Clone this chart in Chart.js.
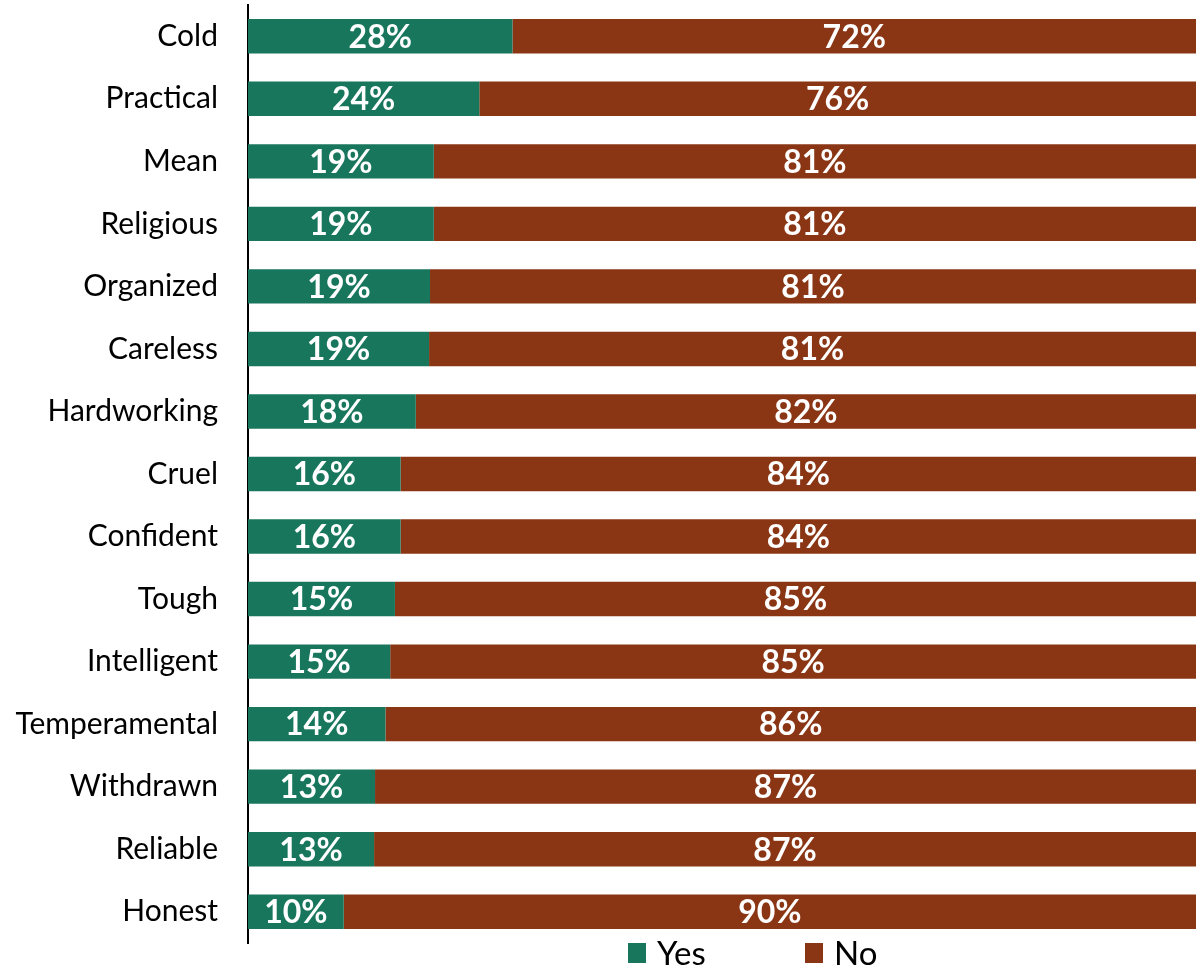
<!DOCTYPE html>
<html>
<head>
<meta charset="utf-8">
<title>Yes / No by trait</title>
<script src="https://cdn.jsdelivr.net/npm/chart.js@4.4.1/dist/chart.umd.min.js"></script>
<style>
  html, body { margin: 0; padding: 0; background: #fff; }
  #wrap { width: 1196px; height: 968px; }
</style>
</head>
<body>
<div id="wrap"><canvas id="traitChart" width="1196" height="968"></canvas></div>
<script>
// Categories, top to bottom
const categories = ['Cold', 'Practical', 'Mean', 'Religious', 'Organized', 'Careless', 'Hardworking',
  'Cruel', 'Confident', 'Tough', 'Intelligent', 'Temperamental', 'Withdrawn', 'Reliable', 'Honest'];

// Bar lengths (share of 100)
const yesShare = [27.9, 24.4, 19.6, 19.6, 19.2, 19.1, 17.7, 16.1, 16.1, 15.5, 15.0, 14.5, 13.4, 13.3, 10.1];
const noShare  = [72.1, 75.6, 80.4, 80.4, 80.8, 80.9, 82.3, 83.9, 83.9, 84.5, 85.0, 85.5, 86.6, 86.7, 89.9];

// Printed percentages
const yesLabels = [28, 24, 19, 19, 19, 19, 18, 16, 16, 15, 15, 14, 13, 13, 10];
const noLabels  = [72, 76, 81, 81, 81, 81, 82, 84, 84, 85, 85, 86, 87, 87, 90];

const GREEN = '#18765C';
const BROWN = '#8A3615';
const FONT = 'Lato, "Open Sans", "Liberation Sans", sans-serif';

// white bold percent inside each segment
const barLabels = {
  id: 'barLabels',
  afterDatasetsDraw(chart) {
    const ctx = chart.ctx;
    ctx.save();
    ctx.fillStyle = '#fff';
    ctx.font = 'bold 32px ' + FONT;
    ctx.textAlign = 'center';
    ctx.textBaseline = 'middle';
    chart.data.datasets.forEach((ds, i) => {
      const meta = chart.getDatasetMeta(i);
      meta.data.forEach((bar, j) => {
        const x = (bar.x + bar.base) / 2;
        ctx.fillText(ds.labelText[j] + '%', x, bar.y + 1);
      });
    });
    ctx.restore();
  }
};

// legend below the plot, square markers
const bottomLegend = {
  id: 'bottomLegend',
  afterDraw(chart) {
    const ctx = chart.ctx;
    const y = chart.chartArea.bottom + 10;
    let x = 628;
    ctx.save();
    ctx.font = '33px ' + FONT;
    ctx.textBaseline = 'middle';
    ctx.textAlign = 'left';
    chart.data.datasets.forEach(ds => {
      ctx.fillStyle = ds.backgroundColor;
      ctx.fillRect(x, y - 10, 18, 20);
      ctx.fillStyle = '#000';
      ctx.fillText(ds.label, x + 29, y + 1);
      x += 177;
    });
    ctx.restore();
  }
};

new Chart(document.getElementById('traitChart'), {
  type: 'bar',
  data: {
    labels: categories,
    datasets: [
      { label: 'Yes', data: yesShare, labelText: yesLabels, backgroundColor: GREEN },
      { label: 'No', data: noShare, labelText: noLabels, backgroundColor: BROWN }
    ]
  },
  options: {
    indexAxis: 'y',
    responsive: false,
    animation: false,
    devicePixelRatio: 1,
    categoryPercentage: 1,
    barPercentage: 0.55,
    layout: { padding: { top: 5, bottom: 25, left: 0, right: 0 } },
    plugins: {
      legend: { display: false },
      tooltip: { enabled: false }
    },
    scales: {
      x: {
        stacked: true,
        min: 0,
        max: 100,
        display: false
      },
      y: {
        stacked: true,
        grid: { display: false, drawTicks: false },
        border: { display: true, color: '#000', width: 2 },
        ticks: {
          color: '#000',
          padding: 30,
          font: { family: FONT, size: 30 }
        },
        afterFit(scale) {
          scale.width = 248;
          scale.paddingTop = 0;
          scale.paddingBottom = 0;
        }
      }
    }
  },
  plugins: [barLabels, bottomLegend]
});
</script>
</body>
</html>
